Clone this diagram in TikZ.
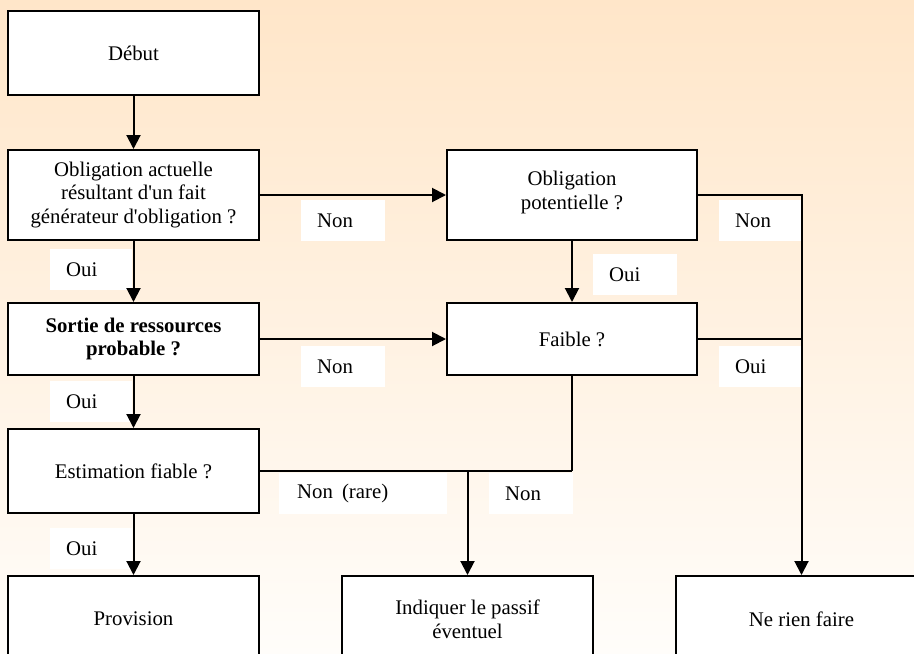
\documentclass[tikz,border=0pt]{standalone}
\usepackage{fontspec}
\setmainfont{Liberation Serif}
\usetikzlibrary{arrows.meta}
\definecolor{bgtop}{RGB}{255,230,201}
\definecolor{bgbot}{RGB}{255,253,250}
\tikzset{
  box/.style={draw=black, fill=white, line width=2pt, minimum width=251pt, align=center, inner sep=0pt,
    font=\fontsize{20.8}{23.7}\selectfont},
  lbl/.style={fill=white, anchor=north west, minimum height=41pt, inner xsep=16pt, inner ysep=0pt,
    align=left, font=\fontsize{20.8}{23.7}\selectfont},
  conn/.style={line width=2pt, draw=black},
  arr/.style={conn, -{Triangle[width=14pt,length=14pt]}}
}
\begin{document}
\begin{tikzpicture}[x=1pt,y=-1pt]
\useasboundingbox (0,0) rectangle (914,654);
\clip (0,0) rectangle (914,654);
\shade[top color=bgtop, bottom color=bgbot] (0,0) rectangle (914,654);

% labels
\node[lbl, text width=52pt] (l1) at (301,200) {Non};
\node[lbl, text width=50pt] (l2) at (50,249) {Oui};
\node[lbl, text width=52pt] (l3) at (593,254) {Oui};
\node[lbl, text width=50pt] (l4) at (719,200) {Non};
\node[lbl, text width=52pt] (l5) at (301,346) {Non};
\node[lbl, text width=50pt] (l6) at (719,346) {Oui};
\node[lbl, text width=50pt] (l7) at (50,381) {Oui};
\node[lbl, text width=132pt, inner xsep=18pt] (l8) at (279,473) {Non\hspace{9pt}(rare)};
\node[lbl, text width=52pt] (l9) at (489,473) {Non};
\node[lbl, text width=50pt] (l10) at (50,528) {Oui};

% boxes
\node[box, minimum height=84pt] (debut) at (133.5,53) {Début};
\node[box, minimum height=90pt] (oa) at (133.5,195) {Obligation actuelle\\résultant d\textquotesingle un fait\\générateur d\textquotesingle obligation ?};
\node[box, minimum height=72pt] (sortie) at (133.5,339) {\textbf{Sortie de ressources}\\\textbf{probable ?}};
\node[box, minimum height=84pt] (estim) at (133.5,471) {Estimation fiable ?};
\node[box, minimum height=86pt] (prov) at (133.5,619) {Provision};
\node[box, minimum width=250pt, minimum height=90pt] (op) at (572,195) {Obligation\\potentielle ?\\[-13.7pt]};
\node[box, minimum width=250pt, minimum height=72pt] (faible) at (572,339) {Faible ?};
\node[box, minimum height=86pt] (indiq) at (467.5,619) {Indiquer le passif\\éventuel};
\node[box, minimum height=86pt] (nrf) at (801.5,619) {Ne rien faire};

% connectors
\draw[arr] (debut) -- (oa);
\draw[arr] (oa) -- (sortie);
\draw[arr] (sortie) -- (estim);
\draw[arr] (estim) -- (prov);
\draw[arr] (oa) -- (op);
\draw[arr] (sortie) -- (faible);
\draw[arr] (op) -- (faible);
\draw[arr] (op.east) -| (nrf.north);
\coordinate (j1) at (faible.east -| nrf.north);
\draw[conn] (faible.east) -- (j1);
\coordinate (j2) at (estim.east -| faible.south);
\coordinate (j3) at (estim.east -| indiq.north);
\draw[conn] (faible.south) -- (j2);
\draw[conn] (estim.east) -- (j2);
\draw[arr] (j3) -- (indiq.north);
\end{tikzpicture}
\end{document}
